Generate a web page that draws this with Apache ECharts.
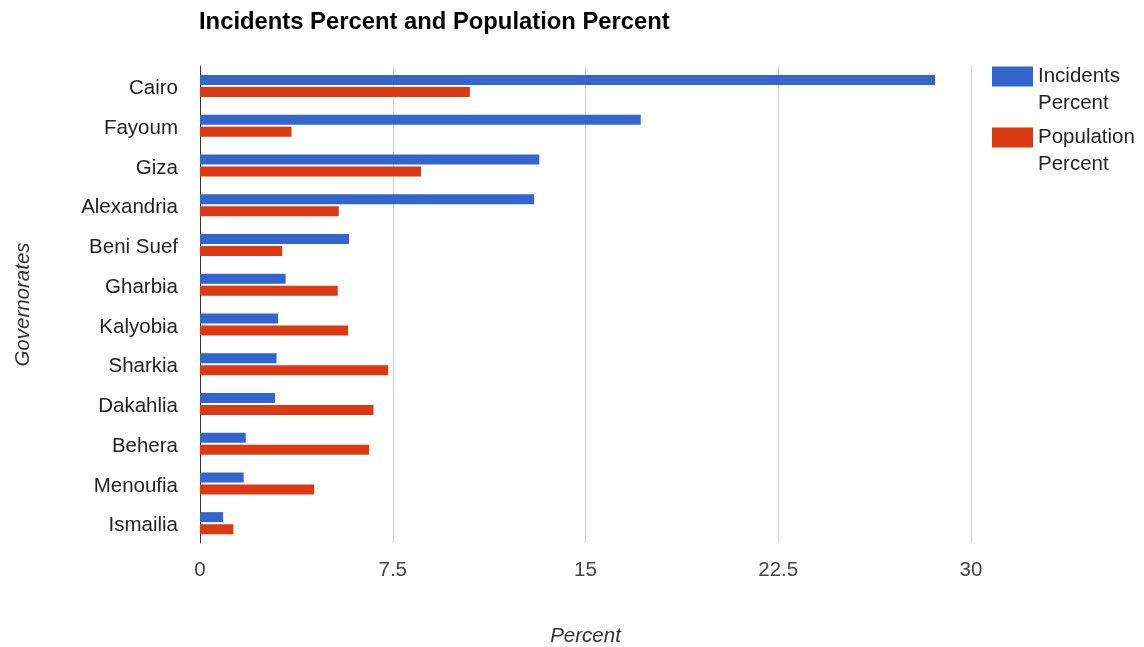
<!DOCTYPE html>
<html>
<head>
<meta charset="utf-8">
<script src="https://cdn.jsdelivr.net/npm/echarts@6/dist/echarts.min.js"></script>
<style>
  html, body { margin: 0; padding: 0; background: #fff; }
  #chart { width: 1144px; height: 647px; }
</style>
</head>
<body>
<div id="chart"></div>
<script>
// Governorates, listed top to bottom
const governorates = ['Cairo', 'Fayoum', 'Giza', 'Alexandria', 'Beni Suef', 'Gharbia',
  'Kalyobia', 'Sharkia', 'Dakahlia', 'Behera', 'Menoufia', 'Ismailia'];
// Share of incidents, in percent
const incidentsPercent = [28.6, 17.15, 13.2, 13.0, 5.8, 3.33, 3.04, 2.98, 2.92, 1.78, 1.7, 0.9];
// Share of population, in percent
const populationPercent = [10.5, 3.56, 8.6, 5.4, 3.2, 5.36, 5.76, 7.32, 6.75, 6.58, 4.44, 1.3];
// Percent axis ticks
const percentTicks = [0, 7.5, 15, 22.5, 30];

const FONT = '"Liberation Sans", Arial, sans-serif';
const chart = echarts.init(document.getElementById('chart'), null, { renderer: 'canvas' });

chart.setOption({
  animation: false,
  backgroundColor: '#ffffff',
  textStyle: { fontFamily: FONT },
  title: {
    text: 'Incidents Percent and Population Percent',
    left: 199,
    top: 10,
    padding: 0,
    textStyle: { fontFamily: FONT, fontSize: 23.8, fontWeight: 'bold', color: '#000000' }
  },
  legend: {
    orient: 'vertical',
    left: 992,
    top: 36,
    padding: 0,
    itemWidth: 41,
    itemHeight: 20,
    itemGap: -20,
    icon: 'rect',
    // a blank first line keeps the first word level with the colour swatch
    formatter: name => '\n' + name.replace(' ', '\n'),
    textStyle: {
      fontFamily: FONT, fontSize: 20.5, color: '#222222', lineHeight: 27
    },
    data: ['Incidents Percent', 'Population Percent']
  },
  grid: {
    left: 200, right: 173, top: 66, bottom: 104,
    containLabel: false, outerBoundsMode: 'none'
  },
  xAxis: {
    type: 'value',
    min: percentTicks[0],
    max: percentTicks[percentTicks.length - 1],
    interval: percentTicks[1] - percentTicks[0],
    name: 'Percent',
    nameLocation: 'middle',
    nameGap: 83,
    nameTextStyle: { fontFamily: FONT, fontSize: 20.5, fontStyle: 'italic', color: '#333333' },
    axisLine: { show: false },
    axisTick: { show: false },
    axisLabel: { fontFamily: FONT, fontSize: 20.5, color: '#444444', margin: 17 },
    splitLine: { show: true, lineStyle: { color: '#cccccc', width: 1 } }
  },
  yAxis: {
    type: 'category',
    inverse: true,
    data: governorates,
    name: 'Governorates',
    nameLocation: 'middle',
    nameGap: 167,
    nameTextStyle: { fontFamily: FONT, fontSize: 20.5, fontStyle: 'italic', color: '#333333' },
    axisLine: { show: true, lineStyle: { color: '#333333', width: 1 } },
    axisTick: { show: false },
    axisLabel: {
      fontFamily: FONT, fontSize: 20.5, color: '#222222', margin: 22,
      verticalAlign: 'top', lineHeight: 5
    },
    splitLine: { show: false }
  },
  series: [
    {
      name: 'Incidents Percent',
      type: 'bar',
      data: incidentsPercent,
      barWidth: 10,
      barGap: '20%',
      itemStyle: { color: '#3366cc' }
    },
    {
      name: 'Population Percent',
      type: 'bar',
      data: populationPercent,
      barWidth: 10,
      barGap: '20%',
      itemStyle: { color: '#dc3912' }
    }
  ]
});
</script>
</body>
</html>
